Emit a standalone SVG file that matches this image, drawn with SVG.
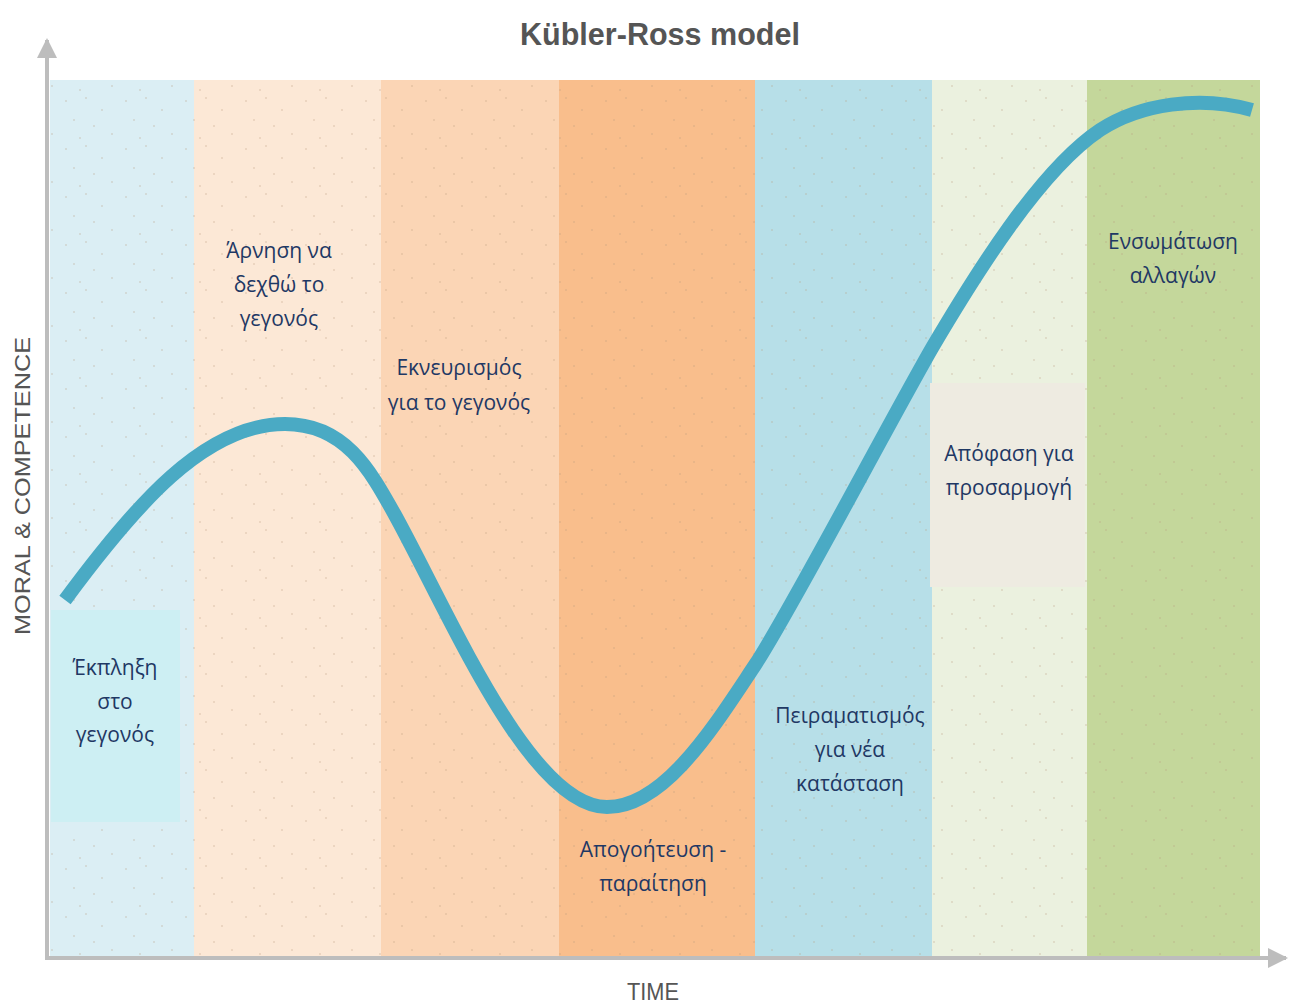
<svg xmlns="http://www.w3.org/2000/svg" width="1299" height="1003" viewBox="0 0 1299 1003">
  <style>
    .lbl { font-family: "Open Sans", "Noto Sans", sans-serif; font-size: 21px; fill: #1f3864; text-anchor: middle; }
    .axis { stroke: #bdbdbd; stroke-width: 4; fill: none; }
    .axlbl { font-family: "Liberation Sans", Arial, sans-serif; fill: #555555; }
  </style>
  <defs>
    <pattern id="speckle" width="60" height="48" patternUnits="userSpaceOnUse">
      <g fill="#b89a7a" opacity="0.35">
        <circle cx="6" cy="5" r="0.9"/>
        <circle cx="26" cy="2" r="0.9"/>
        <circle cx="42" cy="14" r="0.9"/>
        <circle cx="14" cy="24" r="0.9"/>
        <circle cx="34" cy="30" r="0.9"/>
        <circle cx="52" cy="38" r="0.9"/>
        <circle cx="20" cy="42" r="0.9"/>
      </g>
    </pattern>
    <marker id="arrowGray" viewBox="0 0 10 10" refX="9" refY="5" markerWidth="5" markerHeight="5" orient="auto" markerUnits="strokeWidth">
      <path d="M0,0 L10,5 L0,10 z" fill="#bdbdbd"/>
    </marker>
  </defs>

  <rect width="1299" height="1003" fill="#ffffff"/>

  <!-- stage bands -->
  <g id="bands">
    <rect x="50" y="80" width="144" height="876" fill="#dbeef4"/>
    <rect x="194" y="80" width="187" height="876" fill="#fce8d6"/>
    <rect x="381" y="80" width="178" height="876" fill="#fbd5b5"/>
    <rect x="559" y="80" width="196" height="876" fill="#f9be8c"/>
    <rect x="755" y="80" width="177" height="876" fill="#b7dfe8"/>
    <rect x="932" y="80" width="155" height="876" fill="#ebf1df"/>
    <rect x="1087" y="80" width="173" height="876" fill="#c4d79b"/>
    <rect x="50" y="80" width="1210" height="876" fill="url(#speckle)"/>
  </g>

  <!-- highlighted text boxes -->
  <rect x="51" y="610" width="129" height="212" fill="#cdeff3"/>
  <rect x="930" y="383" width="155" height="204" fill="#eeebe1"/>

  <!-- axes and change curve -->
  <g id="connectors">
    <line class="axis" x1="47" y1="958" x2="47" y2="40" marker-end="url(#arrowGray)"/>
    <line class="axis" x1="45" y1="958" x2="1286" y2="958" marker-end="url(#arrowGray)"/>
    <path d="M65,600 C135,505 205,424 285,424 C345,424 370,470 395,515 C450,615 530,807 607,807 C665,807 715,725 755,665 C790,612 885,430 932,348 C975,275 1040,170 1100,130 C1140,104 1200,95 1252,110" fill="none" stroke="#4aaac4" stroke-width="14" stroke-linecap="butt"/>
  </g>

  <!-- title and axis names -->
  <text x="660" y="45" class="axlbl" font-size="32" font-weight="bold" fill="#4d4d4d" text-anchor="middle" textLength="280" lengthAdjust="spacingAndGlyphs">Kübler-Ross model</text>
  <text class="axlbl" font-size="22" text-anchor="middle" transform="translate(30,486) rotate(-90)" textLength="298" lengthAdjust="spacingAndGlyphs">MORAL &amp; COMPETENCE</text>
  <text x="653" y="1000" class="axlbl" font-size="23" text-anchor="middle" textLength="52" lengthAdjust="spacingAndGlyphs">TIME</text>

  <!-- stage labels -->
  <g id="shock">
    <text class="lbl" x="115" y="675">Έκπληξη</text>
    <text class="lbl" x="115" y="709">στο</text>
    <text class="lbl" x="115" y="742">γεγονός</text>
  </g>
  <g id="denial">
    <text class="lbl" x="279" y="258">Άρνηση να</text>
    <text class="lbl" x="279" y="292">δεχθώ το</text>
    <text class="lbl" x="279" y="326">γεγονός</text>
  </g>
  <g id="anger">
    <text class="lbl" x="459" y="375">Εκνευρισμός</text>
    <text class="lbl" x="459" y="410">για το γεγονός</text>
  </g>
  <g id="depression">
    <text class="lbl" x="653" y="857">Απογοήτευση -</text>
    <text class="lbl" x="653" y="891">παραίτηση</text>
  </g>
  <g id="experiment">
    <text class="lbl" x="850" y="723">Πειραματισμός</text>
    <text class="lbl" x="850" y="757">για νέα</text>
    <text class="lbl" x="850" y="791">κατάσταση</text>
  </g>
  <g id="decision">
    <text class="lbl" x="1009" y="461">Απόφαση για</text>
    <text class="lbl" x="1009" y="495">προσαρμογή</text>
  </g>
  <g id="integration">
    <text class="lbl" x="1173" y="249">Ενσωμάτωση</text>
    <text class="lbl" x="1173" y="283">αλλαγών</text>
  </g>
</svg>
